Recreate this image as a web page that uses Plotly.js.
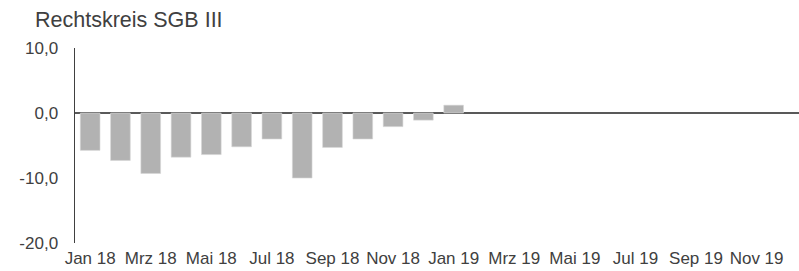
<!DOCTYPE html>
<html>
<head>
<meta charset="utf-8">
<script src="https://cdn.plot.ly/plotly-3.0.1.min.js"></script>
<style>html,body{margin:0;padding:0;background:#fff;}#chart{width:799px;height:271px;}</style>
</head>
<body>
<div id="chart"></div>
<script>
const months = ["Jan 18","Feb 18","Mrz 18","Apr 18","Mai 18","Jun 18","Jul 18","Aug 18","Sep 18","Okt 18","Nov 18","Dez 18",
                "Jan 19","Feb 19","Mrz 19","Apr 19","Mai 19","Jun 19","Jul 19","Aug 19","Sep 19","Okt 19","Nov 19","Dez 19"];
const values = [-5.75,-7.3,-9.3,-6.8,-6.4,-5.2,-4.0,-10.0,-5.3,-4.0,-2.1,-1.1,
                1.2,null,null,null,null,null,null,null,null,null,null,null];
const titleText = "Rechtskreis SGB III";

const trace = {
  type: "bar",
  x: months,
  y: values,
  marker: {color: "#b2b2b2", line: {color: "#d6d6d6", width: 0.6}},
  hoverinfo: "x+y"
};

const layout = {
  width: 799, height: 271,
  margin: {l: 75, r: 0, t: 48, b: 28, pad: 0},
  paper_bgcolor: "#fff", plot_bgcolor: "#fff",
  bargap: 0.35,
  showlegend: false,
  font: {family: "Liberation Sans, Arial, sans-serif", color: "#404040", size: 17},
  title: {
    text: titleText,
    font: {family: "Liberation Sans, Arial, sans-serif", size: 21.5, color: "#404040"},
    xref: "container", yref: "container",
    x: 35/799, xanchor: "left",
    y: 1 - 19/271, yanchor: "middle"
  },
  xaxis: {
    type: "category",
    range: [-0.5, 23.4],
    tickmode: "linear", tick0: 0, dtick: 2,
    showgrid: false, zeroline: false, showline: false,
    ticks: "", ticklabelstandoff: 3,
    tickangle: 0,
    tickfont: {size: 17, color: "#404040"}
  },
  yaxis: {
    range: [-20, 10],
    tickvals: [-20, -10, 0, 10],
    ticktext: ["-20,0", "-10,0", "0,0", "10,0"],
    showgrid: false,
    zeroline: true, zerolinecolor: "#595959", zerolinewidth: 2,
    showline: true, linecolor: "#404040", linewidth: 1.5,
    ticks: "", ticklabelstandoff: 12,
    tickfont: {size: 17, color: "#404040"}
  }
};

Plotly.newPlot("chart", [trace], layout, {displayModeBar: false, staticPlot: true});
</script>
</body>
</html>
